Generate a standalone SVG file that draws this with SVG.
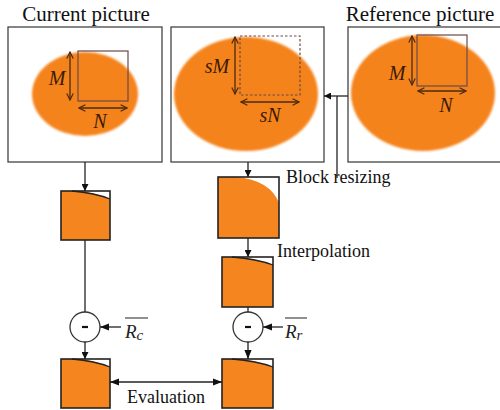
<svg xmlns="http://www.w3.org/2000/svg" width="500" height="410" viewBox="0 0 500 410">
<defs>
<style>
.frame{fill:#fff;stroke:#444;stroke-width:1.3}
.ell{fill:#F5831F;filter:url(#soft)}
.blk{fill:#F5861F}
.bframe{fill:none;stroke:#222;stroke-width:1.6}
.conn{stroke:#222;stroke-width:1.3;fill:none}
.dim{stroke:#4a2a10;stroke-width:1.3;fill:none}
.sq{fill:none;stroke:#6a4a48;stroke-width:1.2}
.title{font-family:"Liberation Serif",serif;font-size:21px;fill:#111}
.lbl{font-family:"Liberation Serif",serif;font-size:18px;fill:#111}
.var{font-family:"Liberation Serif",serif;font-style:italic;font-size:20px;fill:#3a1a05}
.math{font-family:"Liberation Serif",serif;font-style:italic;font-size:19px;fill:#222}
</style>
<filter id="soft" x="-10%" y="-10%" width="120%" height="120%"><feGaussianBlur stdDeviation="0.9"/></filter>
<marker id="ah" viewBox="0 0 10 10" refX="10" refY="5" markerWidth="7" markerHeight="7" orient="auto-start-reverse" markerUnits="userSpaceOnUse"><path d="M0,0 L10,5 L0,10 Z" fill="#111"/></marker>
<marker id="ah2" viewBox="0 0 10 10" refX="10" refY="5" markerWidth="9" markerHeight="9" orient="auto-start-reverse" markerUnits="userSpaceOnUse"><path d="M0,1 L10,5 L0,9 Z" fill="#111"/></marker>
<marker id="op" viewBox="0 0 10 10" refX="9" refY="5" markerWidth="8" markerHeight="8" orient="auto-start-reverse" markerUnits="userSpaceOnUse"><path d="M1,1 L9,5 L1,9" fill="none" stroke="#4a2a10" stroke-width="1.5"/></marker>
</defs>

<g id="current-picture">
<text class="title" x="86" y="21" text-anchor="middle">Current picture</text>
<rect class="frame" x="8" y="27" width="154" height="135"/>
<ellipse class="ell" cx="85" cy="94" rx="53" ry="42"/>
<rect class="sq" x="78" y="51" width="50" height="50"/>
<line class="dim" x1="70" y1="52" x2="70" y2="100" marker-start="url(#op)" marker-end="url(#op)"/>
<line class="dim" x1="79" y1="108" x2="127" y2="108" marker-start="url(#op)" marker-end="url(#op)"/>
<text class="var" x="57" y="85" text-anchor="middle">M</text>
<text class="var" x="100" y="128" text-anchor="middle">N</text>
</g>

<g id="resized-picture">
<rect class="frame" x="171" y="27" width="153" height="135"/>
<ellipse class="ell" cx="246" cy="94" rx="72" ry="57"/>
<rect x="240" y="36" width="60" height="59" fill="none" stroke="#6a4a48" stroke-width="1.2" stroke-dasharray="2.5,2"/>
<line class="dim" x1="235" y1="37" x2="235" y2="94" marker-start="url(#op)" marker-end="url(#op)"/>
<line class="dim" x1="241" y1="102" x2="299" y2="102" marker-start="url(#op)" marker-end="url(#op)"/>
<text class="var" x="217" y="73" text-anchor="middle">sM</text>
<text class="var" x="270" y="122" text-anchor="middle">sN</text>
</g>

<g id="reference-picture">
<text class="title" x="420" y="21" text-anchor="middle">Reference picture</text>
<rect class="frame" x="348" y="27" width="160" height="135"/>
<ellipse class="ell" cx="423" cy="93" rx="72" ry="58"/>
<rect class="sq" x="417" y="35" width="50" height="51"/>
<line class="dim" x1="412" y1="36" x2="412" y2="85" marker-start="url(#op)" marker-end="url(#op)"/>
<line class="dim" x1="418" y1="91" x2="466" y2="91" marker-start="url(#op)" marker-end="url(#op)"/>
<text class="var" x="397" y="80" text-anchor="middle">M</text>
<text class="var" x="446" y="112" text-anchor="middle">N</text>
</g>

<g id="block-current">
<rect x="61" y="191" width="49" height="49" fill="#fff"/>
<path class="blk" d="M61,191 H80 Q95,193 110,199 V240 H61 Z"/>
<path d="M72,191 Q95,193 110,199" fill="none" stroke="#222" stroke-width="1.3"/>
<rect class="bframe" x="61" y="191" width="49" height="49"/>
</g>

<g id="block-resized">
<rect x="218" y="177" width="61" height="61" fill="#fff"/>
<path class="blk" d="M218,177 H236 Q270,180 279,203 V238 H218 Z"/>
<rect class="bframe" x="218" y="177" width="61" height="61"/>
</g>

<g id="block-interpolated">
<rect x="222" y="257" width="51" height="50" fill="#fff"/>
<path class="blk" d="M222,257 H240 Q257,259 273,265 V307 H222 Z"/>
<path d="M232,257 Q257,259 273,265" fill="none" stroke="#222" stroke-width="1.3"/>
<rect class="bframe" x="222" y="257" width="51" height="50"/>
</g>

<g id="subtract-c">
<circle cx="85" cy="327" r="15" fill="#fff" stroke="#333" stroke-width="1.3"/>
<line x1="82" y1="327" x2="88" y2="327" stroke="#111" stroke-width="2.2"/>
</g>

<g id="subtract-r">
<circle cx="248" cy="327" r="15" fill="#fff" stroke="#333" stroke-width="1.3"/>
<line x1="245" y1="327" x2="251" y2="327" stroke="#111" stroke-width="2.2"/>
</g>

<g id="block-current-out">
<rect x="61" y="359" width="49" height="49" fill="#fff"/>
<path class="blk" d="M61,359 H80 Q95,361 110,367 V408 H61 Z"/>
<path d="M72,359 Q95,361 110,367" fill="none" stroke="#222" stroke-width="1.3"/>
<rect class="bframe" x="61" y="359" width="49" height="49"/>
</g>

<g id="block-reference-out">
<rect x="222" y="359" width="51" height="49" fill="#fff"/>
<path class="blk" d="M222,359 H240 Q257,361 273,367 V408 H222 Z"/>
<path d="M232,359 Q257,361 273,367" fill="none" stroke="#222" stroke-width="1.3"/>
<rect class="bframe" x="222" y="359" width="51" height="49"/>
</g>

<g id="labels">
<text class="lbl" x="286" y="183">Block resizing</text>
<text class="lbl" x="277" y="257">Interpolation</text>
<text class="lbl" x="166" y="403" text-anchor="middle">Evaluation</text>
<text class="math" x="125" y="338">R<tspan font-size="15" dy="2">c</tspan></text>
<line x1="125" y1="318" x2="148" y2="318" stroke="#222" stroke-width="1"/>
<text class="math" x="285" y="338">R<tspan font-size="15" dy="2">r</tspan></text>
<line x1="285" y1="318" x2="307" y2="318" stroke="#222" stroke-width="1"/>
</g>

<g id="connectors">
<line class="conn" x1="85" y1="162" x2="85" y2="191" marker-end="url(#ah)"/>
<line class="conn" x1="85" y1="240" x2="85" y2="312"/>
<line class="conn" x1="121" y1="327" x2="100" y2="327" marker-end="url(#ah2)"/>
<line class="conn" x1="85" y1="342" x2="85" y2="359" marker-end="url(#ah)"/>
<line class="conn" x1="248" y1="162" x2="248" y2="177" marker-end="url(#ah)"/>
<line class="conn" x1="248" y1="238" x2="248" y2="257" marker-end="url(#ah)"/>
<line class="conn" x1="248" y1="307" x2="248" y2="312"/>
<line class="conn" x1="283" y1="327" x2="263" y2="327" marker-end="url(#ah2)"/>
<line class="conn" x1="248" y1="342" x2="248" y2="359" marker-end="url(#ah2)"/>
<line class="conn" x1="110" y1="382" x2="222" y2="382" marker-start="url(#ah2)" marker-end="url(#ah2)"/>
<line class="conn" x1="348" y1="96" x2="324" y2="96" marker-end="url(#ah)"/>
<line class="conn" x1="337" y1="96" x2="337" y2="178"/>
</g>
</svg>
